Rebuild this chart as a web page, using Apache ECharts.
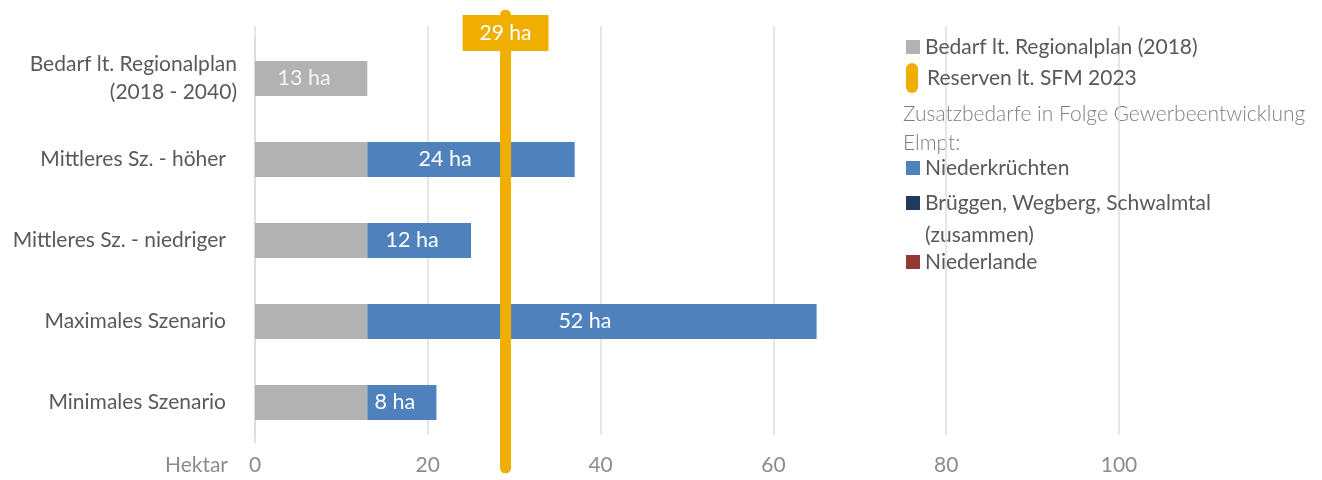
<!DOCTYPE html>
<html>
<head>
<meta charset="utf-8">
<script src="https://cdn.jsdelivr.net/npm/echarts@6/dist/echarts.min.js"></script>
<style>
  html, body { margin: 0; padding: 0; background: #fff; }
  #chart { width: 1322px; height: 480px; }
</style>
</head>
<body>
<div id="chart"></div>
<script>
// Flächenbedarfe je Szenario (Hektar)
const categories = [
  'Bedarf lt. Regionalplan\n(2018 - 2040)',
  'Mittleres Sz. - höher',
  'Mittleres Sz. - niedriger',
  'Maximales Szenario',
  'Minimales Szenario'
];
const bedarfRegionalplan = [13, 13, 13, 13, 13];
const niederkruechten = [null, 24, 12, 52, 8];
const brueggenWegbergSchwalmtal = [null, null, null, null, null];
const niederlande = [null, null, null, null, null];
const reservenSFM = 29;
const xTicks = [0, 20, 40, 60, 80, 100];

const FONT = 'Lato, "Open Sans", sans-serif';
const FS = 21;
const C_GRAY = '#b2b2b2';
const C_BLUE = '#4f81bd';
const C_NAVY = '#1f3a5f';
const C_RED = '#953735';
const C_ORANGE = '#f0ae00';
const C_TEXT = '#595959';
const C_AXIS = '#8c8c8c';

const GRID_LEFT = 255, GRID_RIGHT = 203;
const xMin = xTicks[0], xMax = xTicks[xTicks.length - 1];
const xStep = xTicks[1] - xTicks[0];

const chart = echarts.init(document.getElementById('chart'));

const haLabel = {
  show: true,
  position: 'inside',
  color: '#ffffff',
  fontFamily: FONT,
  fontSize: 21.5,
  offset: [-7, 0],
  formatter: p => p.value + ' ha'
};

// Zusatzbedarf labels: move left when the reserve line would run through them
const niederData = niederkruechten.map((v, i) => {
  if (v == null) return null;
  const mid = bedarfRegionalplan[i] + v / 2;
  const clash = Math.abs(mid - reservenSFM) < 6;
  return { value: v, label: clash ? { offset: [-26, 0] } : {} };
});

const bedarfData = bedarfRegionalplan.map((v, i) => ({
  value: v,
  label: { show: i === 0 }
}));

const legendBase = {
  orient: 'vertical',
  left: 906,
  itemWidth: 14,
  itemHeight: 14,
  icon: 'rect',
  selectedMode: false,
  padding: 0,
  itemStyle: { borderWidth: 0 },
  textStyle: { fontFamily: FONT, fontSize: FS, lineHeight: 26, color: C_TEXT }
};

const option = {
  animation: false,
  backgroundColor: '#ffffff',
  textStyle: { fontFamily: FONT },
  grid: [
    { left: GRID_LEFT, right: GRID_RIGHT, top: 38, bottom: 37 },  // bars
    { left: GRID_LEFT, right: GRID_RIGHT, top: 26, bottom: 45 },  // vertical gridlines
    { left: GRID_LEFT, right: GRID_RIGHT, top: 15, bottom: 12 }   // reserve line
  ],
  xAxis: [
    {
      gridIndex: 0, type: 'value', min: xMin, max: xMax, interval: xStep,
      axisLine: { show: false }, axisTick: { show: false }, splitLine: { show: false },
      axisLabel: { color: C_AXIS, fontFamily: FONT, fontSize: FS, margin: 12 }
    },
    {
      gridIndex: 1, type: 'value', min: xMin, max: xMax, interval: xStep,
      axisLine: { show: false }, axisTick: { show: false }, axisLabel: { show: false },
      splitLine: { show: true, lineStyle: { color: '#dedede', width: 1.5 } }
    },
    {
      gridIndex: 2, type: 'value', min: xMin, max: xMax, show: false
    }
  ],
  yAxis: [
    {
      gridIndex: 0, type: 'category', data: categories, inverse: true,
      axisLine: { show: true, lineStyle: { color: '#d9d9d9', width: 1.5 } },
      axisTick: { show: false },
      axisLabel: {
        color: C_TEXT, fontFamily: FONT, fontSize: FS, lineHeight: 28, margin: 18,
        formatter: (v, i) => i === 0 ? v : '{s|' + v + '}',
        rich: { s: { color: C_TEXT, fontFamily: FONT, fontSize: FS, padding: [0, 11, 0, 0] } }
      }
    },
    { gridIndex: 1, type: 'value', show: false, min: 0, max: 1 },
    { gridIndex: 2, type: 'value', show: false, min: 0, max: 1 }
  ],
  legend: [
    Object.assign({}, legendBase, { top: 34, data: ['Bedarf lt. Regionalplan (2018)'] }),
    Object.assign({}, legendBase, {
      top: 63, itemWidth: 12, itemHeight: 30,
      icon: 'path://M6,0 A6,6 0 0 1 12,6 L12,24 A6,6 0 0 1 0,24 L0,6 A6,6 0 0 1 6,0 Z',
      textStyle: Object.assign({}, legendBase.textStyle, { padding: [0, 0, 0, 4] }),
      data: ['Reserven lt. SFM 2023']
    }),
    Object.assign({}, legendBase, { top: 155, data: ['Niederkrüchten'] }),
    Object.assign({}, legendBase, { top: 190, data: ['Brüggen, Wegberg, Schwalmtal'] }),
    Object.assign({}, legendBase, { top: 249, data: ['Niederlande'] })
  ],
  graphic: [
    {
      type: 'text', left: 903, top: 100,
      style: {
        text: 'Zusatzbedarfe in Folge Gewerbeentwicklung\nElmpt:',
        fill: '#7f7f7f', fontFamily: FONT, fontSize: FS, fontWeight: 300, lineHeight: 29
      }
    },
    {
      type: 'text', left: 925, top: 222,
      style: { text: '(zusammen)', fill: C_TEXT, fontFamily: FONT, fontSize: FS, lineHeight: 26 }
    },
    {
      type: 'text', right: 1322 - 228, top: 455,
      style: { text: 'Hektar', fill: C_AXIS, fontFamily: FONT, fontSize: FS, align: 'right' }
    }
  ],
  series: [
    {
      name: 'Bedarf lt. Regionalplan (2018)', type: 'bar', stack: 'bedarf',
      xAxisIndex: 0, yAxisIndex: 0, barWidth: 35,
      itemStyle: { color: C_GRAY },
      label: Object.assign({}, haLabel, { color: '#f5f5f5' }),
      data: bedarfData
    },
    {
      name: 'Niederkrüchten', type: 'bar', stack: 'bedarf',
      xAxisIndex: 0, yAxisIndex: 0, barWidth: 35,
      itemStyle: { color: C_BLUE },
      label: haLabel,
      data: niederData
    },
    {
      name: 'Brüggen, Wegberg, Schwalmtal', type: 'bar', stack: 'bedarf',
      xAxisIndex: 0, yAxisIndex: 0, barWidth: 35,
      itemStyle: { color: C_NAVY },
      data: brueggenWegbergSchwalmtal
    },
    {
      name: 'Niederlande', type: 'bar', stack: 'bedarf',
      xAxisIndex: 0, yAxisIndex: 0, barWidth: 35,
      itemStyle: { color: C_RED },
      data: niederlande
    },
    {
      name: 'Reserven lt. SFM 2023', type: 'line',
      xAxisIndex: 2, yAxisIndex: 2, z: 5,
      color: C_ORANGE,
      itemStyle: { color: C_ORANGE },
      lineStyle: { color: C_ORANGE, width: 11, cap: 'round' },
      symbol: 'circle', symbolSize: 0, showSymbol: true,
      data: [
        { value: [reservenSFM, 0] },
        {
          value: [reservenSFM, 1],
          label: {
            show: true, position: 'bottom', distance: 0,
            formatter: p => p.value[0] + ' ha',
            color: '#ffffff', fontFamily: FONT, fontSize: FS, lineHeight: 24,
            backgroundColor: C_ORANGE, padding: [6, 17, 6, 17]
          }
        }
      ]
    }
  ]
};

chart.setOption(option);
</script>
</body>
</html>
